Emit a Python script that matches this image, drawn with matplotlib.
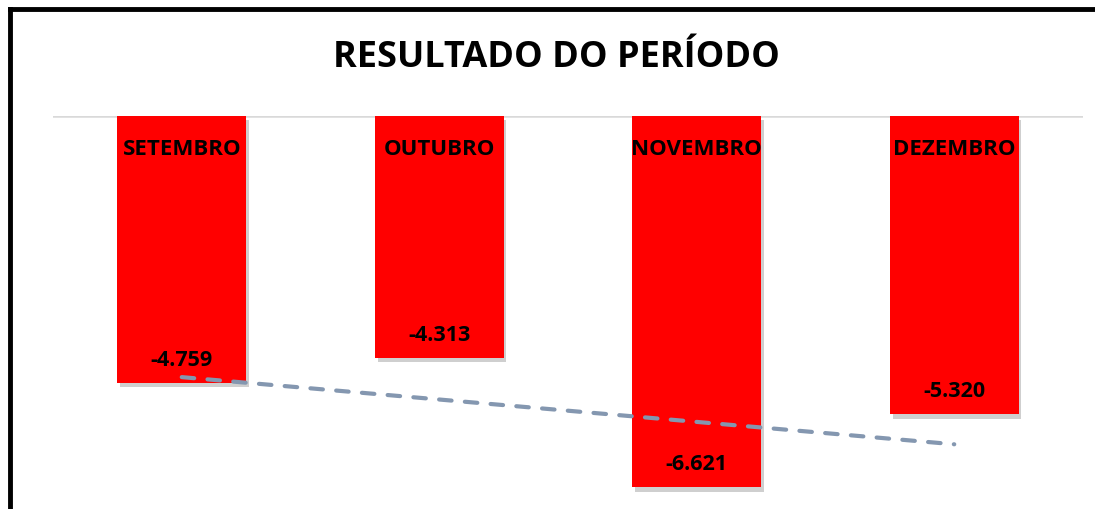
import matplotlib
matplotlib.use("Agg")
import matplotlib.pyplot as plt
import matplotlib.patheffects as pe
from matplotlib.lines import Line2D
import numpy as np

plt.rcParams['font.family'] = ['Open Sans', 'DejaVu Sans']

months = ['SETEMBRO', 'OUTUBRO', 'NOVEMBRO', 'DEZEMBRO']
result = [-4759, -4313, -6621, -5320]
value_labels = ['-4.759', '-4.313', '-6.621', '-5.320']
title = 'RESULTADO DO PERÍODO'

W, H = 1095, 510
fig = plt.figure(figsize=(W / 100, H / 100), dpi=100)
ax = fig.add_axes([53 / W, 0, 1030 / W, 1 - 117 / H])

x = np.arange(len(months))
bars = ax.bar(x, result, width=0.5, color='#ff0000', zorder=2,
              path_effects=[pe.SimplePatchShadow(offset=(2, -3), shadow_rgbFace='#777777', alpha=0.35),
                            pe.Normal()])

# linear trend line
coef = np.polyfit(x, result, 1)
ax.plot(x, np.polyval(coef, x), color='#8497b0', lw=3.0, dashes=(3.0, 3.2),
        dash_capstyle='round', zorder=3)

ax.axhline(0, color='#d9d9d9', lw=1.8, zorder=1)

for xi, val, m, lab in zip(x, result, months, value_labels):
    ax.annotate(m, (xi, 0), xytext=(0, -23.5), textcoords='offset points',
                ha='center', va='center', fontsize=16, fontweight='bold', color='black', zorder=4)
    ax.annotate(lab, (xi, val), xytext=(0, 17), textcoords='offset points',
                ha='center', va='center', fontsize=15.5, fontweight='bold', color='black', zorder=4)

ax.set_xlim(-0.5, 3.5)
ax.set_ylim(-(H - 117) / 0.0561, 0)
ax.axis('off')

fig.text(556 / W, 1 - 58 / H, title, ha='center', va='center', fontsize=26,
         fontweight='bold', color='black')

# outer frame (top and left edges visible)
fig.add_artist(Line2D([9.5 / W, 1.0], [1 - 10 / H, 1 - 10 / H], color='black', lw=3.5,
                      transform=fig.transFigure, solid_capstyle='projecting'))
fig.add_artist(Line2D([9.5 / W, 9.5 / W], [1 - 10 / H, 0], color='black', lw=3.5,
                      transform=fig.transFigure, solid_capstyle='projecting'))

fig.savefig('out.png', dpi=100)
